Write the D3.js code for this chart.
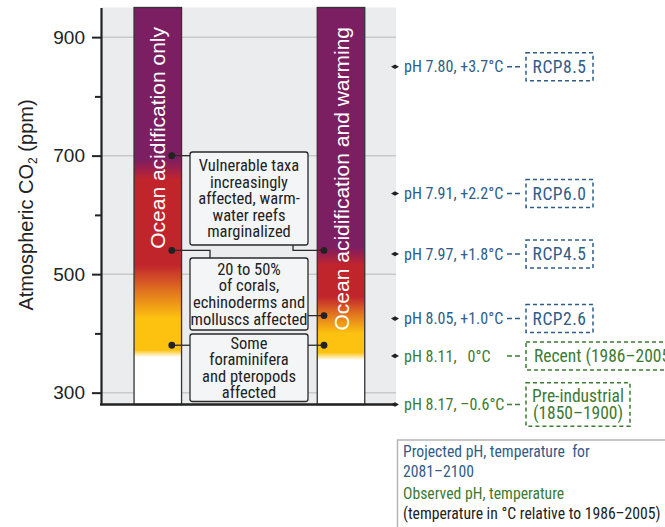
<!DOCTYPE html>
<html>
<head>
<meta charset="utf-8">
<script src="https://cdn.jsdelivr.net/npm/d3@7"></script>
<style>
  body { margin: 0; background: #fff; }
  svg { display: block; }
</style>
</head>
<body>
<div id="chart"></div>
<script>
// CO2 axis
const yDomain = [280, 950];
const yMajor = [300, 500, 700, 900];
const yMinor = [400, 600, 800];

// the two bars
const barNames = ["Ocean acidification only", "Ocean acidification and warming"];
const rampColors = ["#ffffff", "#ffffff", "#fcc20f", "#fcc20f", "#e2761f", "#c1252c", "#c1252c", "#9c1f4c", "#7b1e62", "#7b1e62"];
const leftStopPpm = [280, 360, 372, 425, 470, 515, 660, 678, 695, 950];
const rightStopPpm = [280, 355, 368, 400, 432, 462, 515, 532, 547, 950];

// impact call-outs (dot levels on each bar)
const impactText = [
  ["Vulnerable taxa", "increasingly", "affected, warm-", "water reefs", "marginalized"],
  ["20 to 50%", "of corals,", "echinoderms and", "molluscs affected"],
  ["Some", "foraminifera", "and pteropods", "affected"]
];
const impactLeftPpm = [700, 540, 380];
const impactRightPpm = [540, 430, 380];

// scenarios on the right
const scenarioLabels = ["pH 7.80, +3.7°C", "pH 7.91, +2.2°C", "pH 7.97, +1.8°C", "pH 8.05, +1.0°C", "pH 8.11,   0°C", "pH 8.17, \u20130.6°C"];
const scenarioPpm = [850, 636, 534, 425, 362, 280];
const scenarioNames = [["RCP8.5"], ["RCP6.0"], ["RCP4.5"], ["RCP2.6"], ["Recent (1986\u20132005)"], ["Pre-industrial", "(1850\u20131900)"]];
const scenarioKind = ["proj", "proj", "proj", "proj", "obs", "obs"];

const legendLines = ["Projected pH, temperature  for", "2081\u20132100", "Observed pH, temperature", "(temperature in °C relative to 1986\u20132005)"];
const legendKind = ["proj", "proj", "obs", "note"];

const colors = { proj: "#2f5d88", obs: "#3d7a33", note: "#222", ink: "#2a2a2a", bg: "#ebecee", grid: "#c9c9c9", box: "#f4f5f6" };
const REG = "'Liberation Sans', Arial, sans-serif";
const NARROW = "'Roboto Condensed', 'Liberation Sans', sans-serif";

const width = 665, height = 527;
const plot = { left: 101, right: 396, top: 7.5, bottom: 404.5 };

const svg = d3.select("#chart").append("svg")
  .attr("width", width)
  .attr("height", height);

const y = d3.scaleLinear().domain(yDomain).range([plot.bottom, plot.top]);
const x = d3.scalePoint().domain(barNames).range([157.8, 341]);
const barW = 47.5;

// background panel
svg.append("rect")
  .attr("x", plot.left).attr("y", plot.top)
  .attr("width", plot.right - plot.left).attr("height", plot.bottom - plot.top)
  .attr("fill", colors.bg);

// grid lines
svg.selectAll("line.grid")
  .data(yMajor)
  .enter().append("line")
  .attr("class", "grid")
  .attr("x1", plot.left).attr("x2", plot.right)
  .attr("y1", d => y(d)).attr("y2", d => y(d))
  .attr("stroke", colors.grid).attr("stroke-width", 1.5);

// gradients for the bars
const defs = svg.append("defs");
[leftStopPpm, rightStopPpm].forEach((stops, i) => {
  const g = defs.append("linearGradient")
    .attr("id", "grad" + i)
    .attr("gradientUnits", "userSpaceOnUse")
    .attr("x1", 0).attr("x2", 0)
    .attr("y1", y(yDomain[0])).attr("y2", y(yDomain[1]));
  stops.forEach((p, j) => {
    g.append("stop")
      .attr("offset", (p - yDomain[0]) / (yDomain[1] - yDomain[0]))
      .attr("stop-color", rampColors[j]);
  });
});

svg.selectAll("rect.bar")
  .data(barNames)
  .enter().append("rect")
  .attr("class", "bar")
  .attr("x", d => x(d) - barW / 2)
  .attr("y", y(yDomain[1]))
  .attr("width", barW)
  .attr("height", y(yDomain[0]) - y(yDomain[1]))
  .attr("fill", (d, i) => `url(#grad${i})`)
  .attr("stroke", "#333").attr("stroke-width", 1.3);

// bar titles
svg.selectAll("text.barname")
  .data(barNames)
  .enter().append("text")
  .attr("class", "barname")
  .attr("transform", d => `translate(${x(d)},27) rotate(-90)`)
  .attr("text-anchor", "end")
  .attr("dy", "0.36em")
  .attr("fill", "#fff")
  .style("font-family", REG)
  .style("font-size", "21px")
  .text(d => d);

// call-out boxes
const boxX0 = 190, boxX1 = 308;
const boxY = [[152, 245], [258, 330], [334, 401.5]];
const lineH = 16.6;
const xl = x(barNames[0]) + 14, xr = x(barNames[1]) - 17;

const conn = svg.append("g")
  .attr("fill", "none").attr("stroke", colors.ink).attr("stroke-width", 1.3);
// box 1
conn.append("path").attr("d", `M${xl},${y(impactLeftPpm[0])}H${boxX0}`);
conn.append("path").attr("d", `M293,${boxY[0][1]}V${y(impactRightPpm[0])}H${xr}`);
// box 2
conn.append("path").attr("d", `M${xl},${y(impactLeftPpm[1])}H210V${boxY[1][0]}`);
conn.append("path").attr("d", `M${boxX1},${y(impactRightPpm[1])}H${xr}`);
// box 3
conn.append("path").attr("d", `M${xl},${y(impactLeftPpm[2])}H${boxX0}`);
conn.append("path").attr("d", `M${boxX1},${y(impactRightPpm[2])}H${xr}`);

impactText.forEach((lines, i) => {
  const [t, b] = boxY[i];
  svg.append("rect")
    .attr("x", boxX0).attr("y", t)
    .attr("width", boxX1 - boxX0).attr("height", b - t)
    .attr("rx", 2.5)
    .attr("fill", colors.box).attr("stroke", colors.ink).attr("stroke-width", 1.3);
  const mid = (t + b) / 2;
  const txt = svg.append("text")
    .attr("text-anchor", "middle")
    .attr("fill", "#222")
    .style("font-family", NARROW)
    .style("font-size", "16.5px");
  lines.forEach((s, j) => {
    txt.append("tspan")
      .attr("x", (boxX0 + boxX1) / 2)
      .attr("y", mid + (j - (lines.length - 1) / 2) * lineH)
      .attr("dy", "0.35em")
      .text(s);
  });
});

// dots on the bars
svg.selectAll("circle.ldot")
  .data(impactLeftPpm)
  .enter().append("circle")
  .attr("cx", xl).attr("cy", d => y(d)).attr("r", 3.4).attr("fill", "#222");
svg.selectAll("circle.rdot")
  .data(impactRightPpm)
  .enter().append("circle")
  .attr("cx", xr).attr("cy", d => y(d)).attr("r", 3.4).attr("fill", "#222");

// axes
const yAxis = svg.append("g")
  .attr("transform", `translate(${plot.left},0)`)
  .call(d3.axisLeft(y).tickValues(yMajor).tickSize(9).tickPadding(7).tickSizeOuter(0));
yAxis.select(".domain").attr("stroke", "#222").attr("stroke-width", 2.2);
yAxis.selectAll(".tick line").attr("stroke", "#222").attr("stroke-width", 2);
yAxis.selectAll(".tick text")
  .attr("fill", "#222")
  .style("font-family", REG)
  .style("font-size", "19px");

svg.append("g")
  .attr("transform", `translate(${plot.left},0)`)
  .call(d3.axisLeft(y).tickValues(yMinor).tickSize(6).tickFormat("").tickSizeOuter(0))
  .call(g => g.select(".domain").remove())
  .selectAll(".tick line").attr("stroke", "#222").attr("stroke-width", 2);

// bottom line out to the pre-industrial marker
svg.append("line")
  .attr("x1", plot.left - 1).attr("x2", 395)
  .attr("y1", y(yDomain[0])).attr("y2", y(yDomain[0]))
  .attr("stroke", "#222").attr("stroke-width", 2.6);

const ylab = svg.append("text")
  .attr("transform", "translate(26,205) rotate(-90)")
  .attr("text-anchor", "middle")
  .attr("dy", "0.36em")
  .attr("fill", "#222")
  .style("font-family", REG)
  .style("font-size", "20px");
ylab.append("tspan").text("Atmospheric CO");
ylab.append("tspan").attr("dy", "0.3em").style("font-size", "12px").text("2");
ylab.append("tspan").attr("dy", "-0.18em").text("\u00a0(ppm)");

// scenario markers and labels
const boxW = [67, 67, 67, 67, 160, 104];
const scen = svg.selectAll("g.scen")
  .data(scenarioPpm)
  .enter().append("g")
  .attr("class", "scen")
  .attr("transform", d => `translate(0,${y(d)})`);

scen.append("path")
  .attr("d", "M391,0L395,-2.3L399,0L395,2.3Z")
  .attr("fill", "#222");

scen.append("text")
  .attr("x", 404)
  .attr("dy", "0.35em")
  .attr("fill", (d, i) => colors[scenarioKind[i]])
  .style("font-family", NARROW)
  .style("font-size", "16px")
  .style("white-space", "pre")
  .text((d, i) => scenarioLabels[i]);

scen.append("line")
  .attr("x1", 507).attr("x2", 523)
  .attr("stroke", (d, i) => colors[scenarioKind[i]])
  .attr("stroke-width", 1.5)
  .attr("stroke-dasharray", "5,3");

scen.append("rect")
  .attr("x", 526)
  .attr("y", (d, i) => scenarioNames[i].length > 1 ? -21.7 : -14)
  .attr("width", (d, i) => boxW[i])
  .attr("height", (d, i) => scenarioNames[i].length > 1 ? 43.4 : 28)
  .attr("fill", "none")
  .attr("stroke", (d, i) => colors[scenarioKind[i]])
  .attr("stroke-width", 1.5)
  .attr("stroke-dasharray", "4,3");

scen.each(function (d, i) {
  const lines = scenarioNames[i];
  const leftAligned = boxW[i] > 120;
  const t = d3.select(this).append("text")
    .attr("text-anchor", leftAligned ? "start" : "middle")
    .attr("fill", colors[scenarioKind[i]])
    .style("font-family", NARROW)
    .style("font-size", "17.5px")
    .style("letter-spacing", lines[0].startsWith("RCP") ? "0.5px" : "0px");
  lines.forEach((s, j) => {
    t.append("tspan")
      .attr("x", leftAligned ? 534 : 526 + boxW[i] / 2)
      .attr("y", (j - (lines.length - 1) / 2) * 16.5)
      .attr("dy", "0.35em")
      .text(s);
  });
});

// legend box
svg.append("rect")
  .attr("x", 397.5).attr("y", 440)
  .attr("width", 300).attr("height", 120)
  .attr("fill", "#fff").attr("stroke", "#b5b5b5").attr("stroke-width", 1.5);

svg.selectAll("text.leg")
  .data(legendLines)
  .enter().append("text")
  .attr("class", "leg")
  .attr("x", 403)
  .attr("y", (d, i) => [452, 472, 493.5, 513.5][i])
  .attr("dy", "0.35em")
  .attr("fill", (d, i) => colors[legendKind[i]])
  .style("font-family", NARROW)
  .style("font-size", "15.7px")
  .style("white-space", "pre")
  .text(d => d);
</script>
</body>
</html>
